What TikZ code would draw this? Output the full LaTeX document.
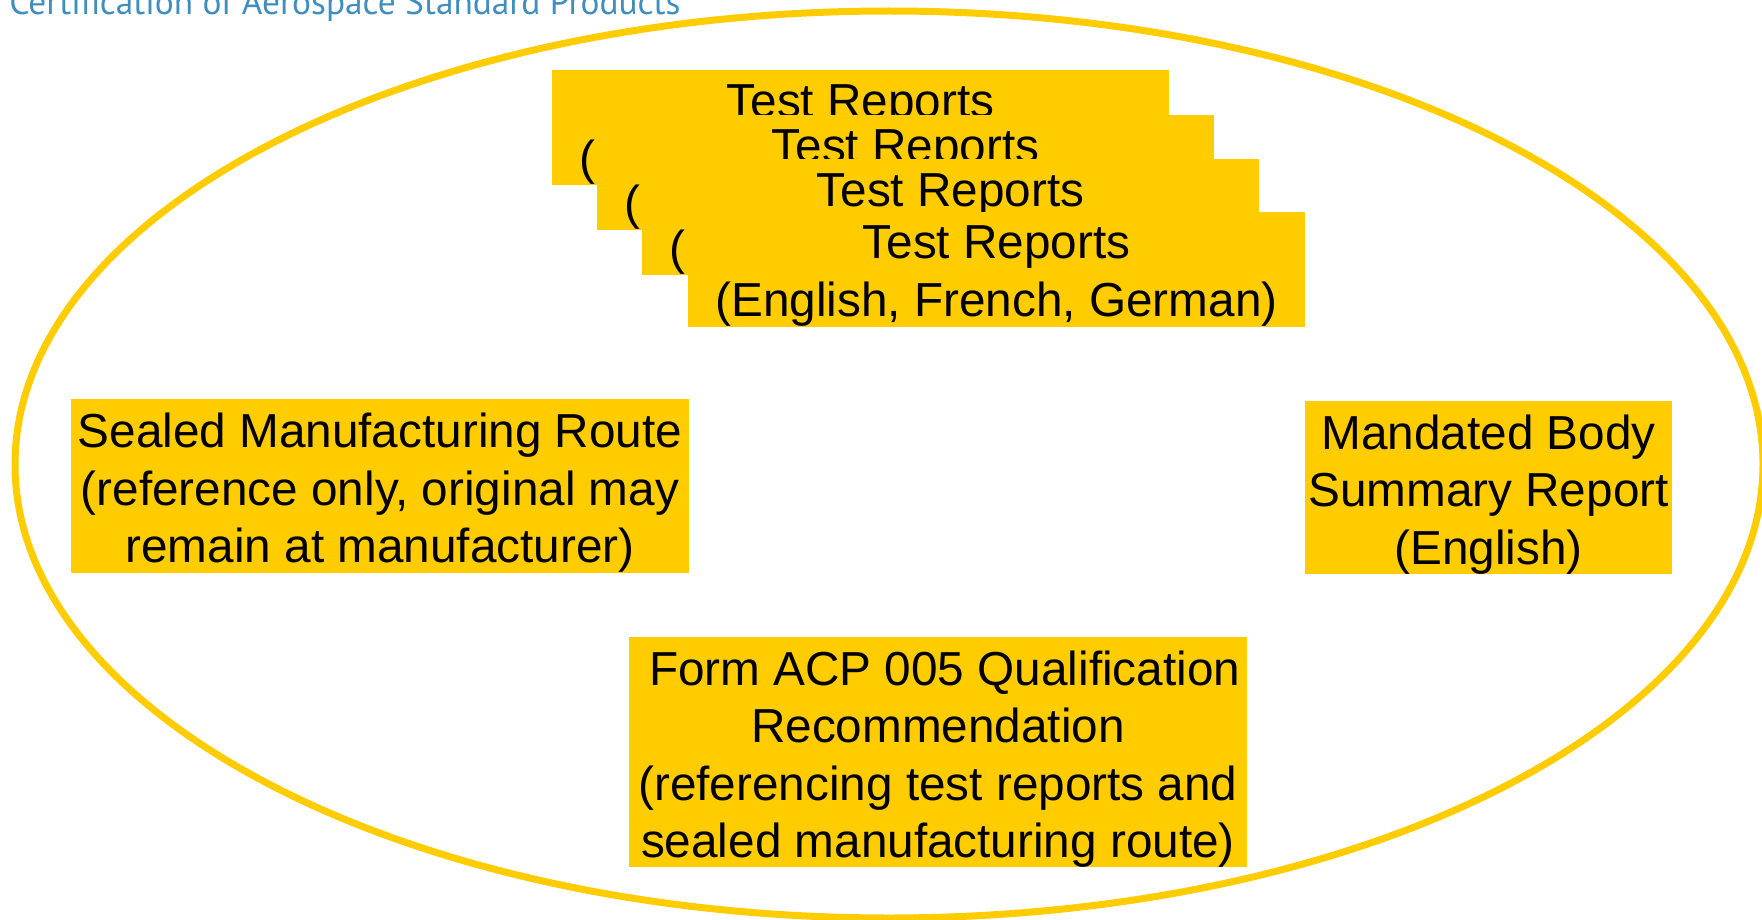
\documentclass[tikz,border=0pt]{standalone}
\usepackage{fontspec}
\setmainfont{Liberation Sans}
\newfontfamily\titlefont{PT Sans}
\definecolor{boxyellow}{HTML}{FFCC00}
\definecolor{titleblue}{RGB}{62,142,190}
\tikzset{
  ybox/.style={fill=boxyellow, inner sep=0pt},
  btext/.style={inner sep=0pt, align=center, text=black,
    font=\fontsize{23.85pt}{28.75pt}\selectfont},
  stackbox/.style={ybox, minimum width=308.5pt, minimum height=57.5pt},
  ring/.style={draw=boxyellow, line width=3.5pt}
}
\begin{document}
\begin{tikzpicture}[x=0.5pt,y=-0.5pt]
\useasboundingbox (0,0) rectangle (1762,920);
\node[anchor=base west, inner sep=0pt, text=titleblue] (title) at (9,15)
  {\resizebox{335.5pt}{!}{\titlefont Certification of Aerospace Standard Products}};
\draw[ring] (889,464.5) ellipse [x radius=437pt, y radius=226.75pt];
\node[stackbox] (tr1) at (860.5,127.5) {};
\node[btext] (tr1t) at ([yshift=-3.5pt]tr1.center) {Test Reports\\(English, French, German)};
\node[stackbox] (tr2) at (905.5,172.5) {};
\node[btext] (tr2t) at ([yshift=-3.5pt]tr2.center) {Test Reports\\(English, French, German)};
\node[stackbox] (tr3) at (950.5,217) {};
\node[btext] (tr3t) at ([yshift=-3.5pt]tr3.center) {Test Reports\\(English, French, German)};
\node[stackbox] (tr4) at (996.5,269) {};
\node[btext] (tr4t) at ([yshift=-3.5pt]tr4.center) {Test Reports\\(English, French, German)};
\node[ybox, minimum width=309pt, minimum height=87pt] (smr) at (380,486) {};
\node[btext] (smrt) at ([yshift=-3.5pt]smr.center)
  {Sealed Manufacturing Route\\(reference only, original may\\remain at manufacturer)};
\node[ybox, minimum width=183.5pt, minimum height=86.5pt] (mbs) at (1488.5,487.5) {};
\node[btext] (mbst) at ([yshift=-3.5pt]mbs.center)
  {Mandated Body\\Summary Report\\(English)};
\node[ybox, minimum width=309pt, minimum height=115pt] (acp) at (938,752) {};
\node[btext] (acpt) at ([yshift=-3.5pt]acp.center)
  {\hspace{0.278em}Form ACP 005 Qualification\\Recommendation\\(referencing test reports and\\sealed manufacturing route)};
\end{tikzpicture}
\end{document}
